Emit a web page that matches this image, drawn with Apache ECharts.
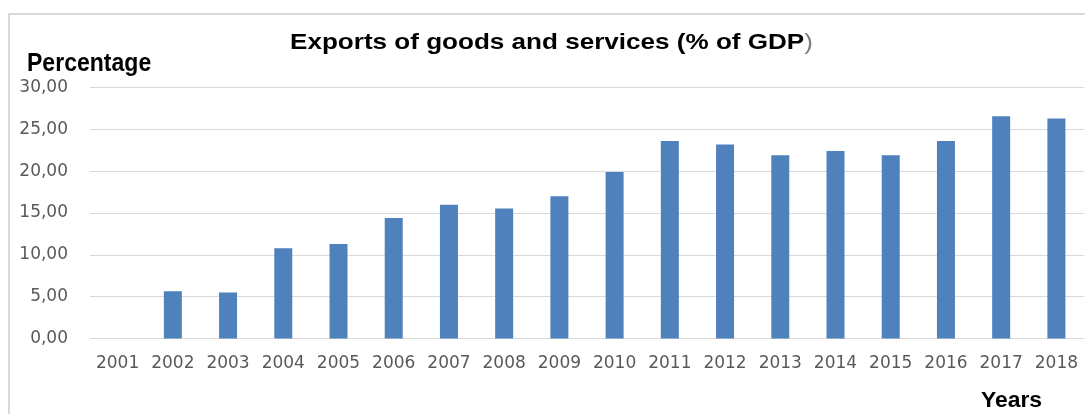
<!DOCTYPE html>
<html>
<head>
<meta charset="utf-8">
<script src="https://cdn.jsdelivr.net/npm/echarts@6/dist/echarts.min.js"></script>
<style>html,body{margin:0;padding:0;background:#fff}#c{width:1085px;height:414px}</style>
</head>
<body>
<div id="c"></div>
<script>
const years = ['2001','2002','2003','2004','2005','2006','2007','2008','2009','2010','2011','2012','2013','2014','2015','2016','2017','2018'];
const exportsPct = [null, 5.65, 5.5, 10.8, 11.3, 14.4, 16.0, 15.55, 17.0, 19.9, 23.6, 23.2, 21.9, 22.4, 21.9, 23.6, 26.55, 26.3];
const yTicks = [0, 5, 10, 15, 20, 25, 30];

const chart = echarts.init(document.getElementById('c'), null, {renderer: 'canvas'});
chart.setOption({
  animation: false,
  backgroundColor: '#ffffff',
  graphic: [
    {type: 'rect', shape: {x: 9, y: 14, width: 1200, height: 600}, style: {fill: 'none', stroke: '#d9d9d9', lineWidth: 2}, silent: true},
    {type: 'text', x: 290, y: 32, scaleX: 1.185, style: {
      text: '{a|Exports of goods and services (% of GDP}{b|)}',
      rich: {
        a: {font: 'bold 22px "Liberation Sans", Arial', fill: '#000'},
        b: {font: '22px "Liberation Sans", Arial', fill: '#7f7f7f'}
      }
    }},
    {type: 'text', x: 27, y: 51, scaleX: 0.886, style: {text: 'Percentage', font: 'bold 26px "Liberation Sans", Arial', fill: '#000'}},
    {type: 'text', x: 981, y: 390, scaleX: 1.04, style: {text: 'Years', font: 'bold 22px "Liberation Sans", Arial', fill: '#000'}}
  ],
  grid: {left: 90, right: 1, top: 87.5, bottom: 75.5, containLabel: false},
  xAxis: {
    type: 'category',
    data: years,
    axisLine: {show: true, lineStyle: {color: '#d9d9d9', width: 1}},
    axisTick: {show: false},
    axisLabel: {color: '#595959', fontFamily: '"DejaVu Sans", Verdana', fontSize: 17, margin: 17, interval: 0}
  },
  yAxis: {
    type: 'value',
    min: yTicks[0],
    max: yTicks[yTicks.length - 1],
    interval: 5,
    axisLine: {show: false},
    axisTick: {show: false},
    splitLine: {lineStyle: {color: '#d9d9d9', width: 1}},
    axisLabel: {
      color: '#595959', fontFamily: '"DejaVu Sans", Verdana', fontSize: 17, margin: 22,
      formatter: v => v.toFixed(2).replace('.', ',')
    }
  },
  series: [{
    type: 'bar',
    data: exportsPct,
    barWidth: 18,
    itemStyle: {color: '#4f81bd'}
  }]
});
</script>
</body>
</html>
